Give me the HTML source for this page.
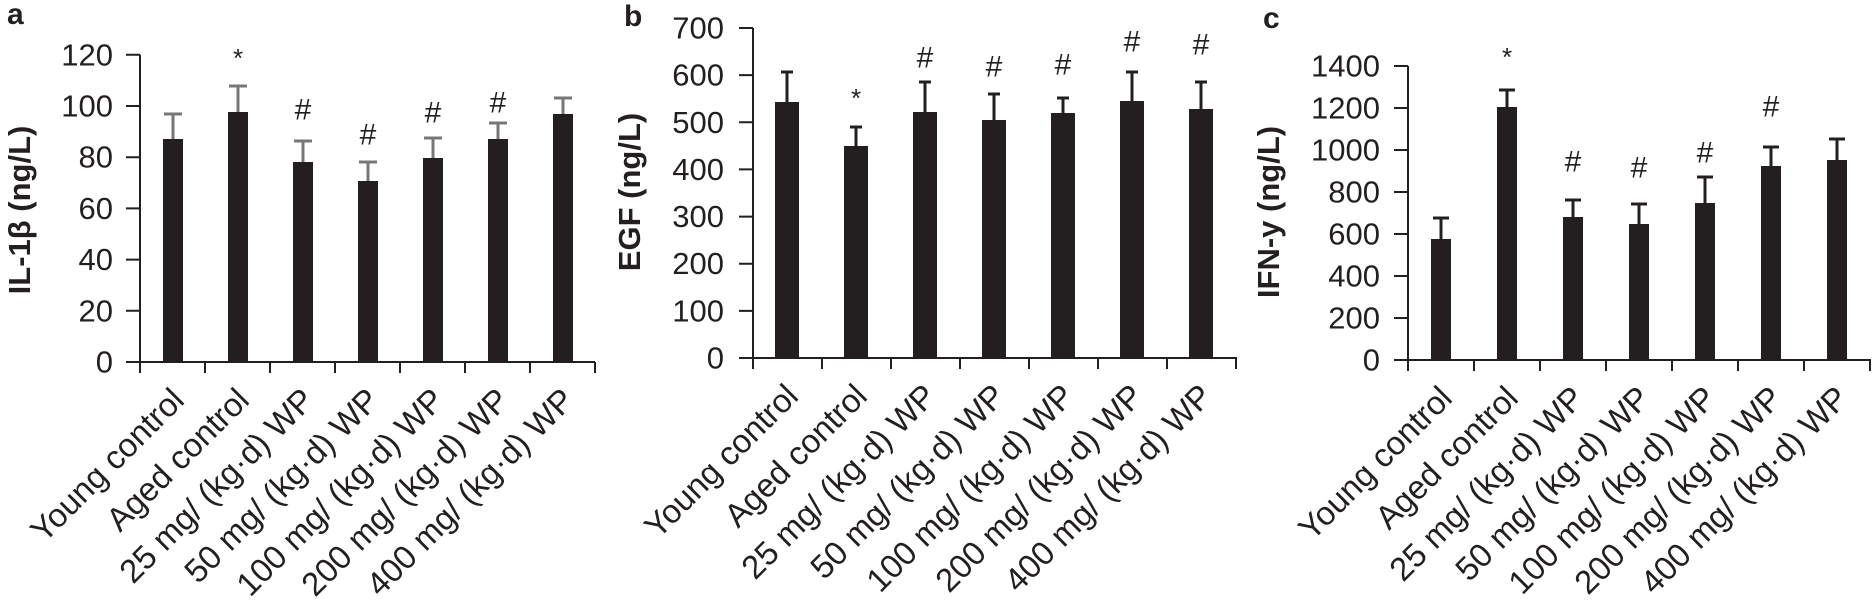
<!DOCTYPE html>
<html><head><meta charset="utf-8"><style>
html,body{margin:0;padding:0;background:#fff;}
svg{display:block;font-family:"Liberation Sans",sans-serif;}
.tk{font-size:31px;fill:#231f20;}
.xl{font-size:33px;fill:#231f20;}
.ti{font-size:31px;font-weight:bold;fill:#231f20;}
.pl{font-size:30px;font-weight:bold;fill:#231f20;}
.mk{font-size:30px;fill:#231f20;}
.st{font-size:26px;fill:#231f20;}
.ax{stroke:#231f20;stroke-width:2;fill:none;}
.bar{fill:#231f20;}
.eg{stroke:#777;stroke-width:3;fill:none;}
.eb{stroke:#231f20;stroke-width:3;fill:none;}
</style></head><body>
<svg width="1872" height="601" viewBox="0 0 1872 601" xmlns="http://www.w3.org/2000/svg">
<!-- Panel a -->
<text class="pl" x="7" y="24">a</text>
<text class="ti" transform="translate(30,210) rotate(-90)" text-anchor="middle">IL-1β (ng/L)</text>
<path class="ax" d="M140 54.8V362H595M126 362H140M126 310.8H140M126 259.6H140M126 208.4H140M126 157.2H140M126 106H140M126 54.8H140M140 362V373M205 362V373M270 362V373M335 362V373M400 362V373M465 362V373M530 362V373M595 362V373"/>
<g class="tk" text-anchor="end" dominant-baseline="central">
<text x="113" y="362">0</text><text x="113" y="310.8">20</text><text x="113" y="259.6">40</text><text x="113" y="208.4">60</text><text x="113" y="157.2">80</text><text x="113" y="106">100</text><text x="113" y="54.8">120</text></g>
<path class="eg" d="M173 139V114M164 114H182M238 112V86M229 86H247M303 162V141M294 141H312M368 181V162M359 162H377M433 158V138M424 138H442M498 139V123M489 123H507M563 114V98M554 98H572"/>
<rect class="bar" x="163" y="139" width="20" height="223"/><rect class="bar" x="228" y="112" width="20" height="250"/><rect class="bar" x="293" y="162" width="20" height="200"/><rect class="bar" x="358" y="181" width="20" height="181"/><rect class="bar" x="423" y="158" width="20" height="204"/><rect class="bar" x="488" y="139" width="20" height="223"/><rect class="bar" x="553" y="114" width="20" height="248"/>
<g text-anchor="middle" dominant-baseline="central"><text class="st" x="238" y="58">*</text><text class="mk" x="303" y="110">#</text><text class="mk" x="368" y="135">#</text><text class="mk" x="433" y="113">#</text><text class="mk" x="498" y="103">#</text></g>
<g class="xl" text-anchor="end">
<text transform="translate(186,402) rotate(-45)">Young control</text>
<text transform="translate(251,402) rotate(-45)">Aged control</text>
<text transform="translate(316,402) rotate(-45)">25 mg/ (kg·d) WP</text>
<text transform="translate(381,402) rotate(-45)">50 mg/ (kg·d) WP</text>
<text transform="translate(446,402) rotate(-45)">100 mg/ (kg·d) WP</text>
<text transform="translate(511,402) rotate(-45)">200 mg/ (kg·d) WP</text>
<text transform="translate(576,402) rotate(-45)">400 mg/ (kg·d) WP</text></g>

<!-- Panel b -->
<text class="pl" x="624" y="26">b</text>
<text class="ti" transform="translate(640,192) rotate(-90)" text-anchor="middle">EGF (ng/L)</text>
<path class="ax" d="M753 28V358H1237M739 358H753M739 310.9H753M739 263.7H753M739 216.6H753M739 169.4H753M739 122.3H753M739 75.1H753M739 28H753M753 358V369M822 358V369M891 358V369M960 358V369M1029 358V369M1098 358V369M1167 358V369M1236 358V369"/>
<g class="tk" text-anchor="end" dominant-baseline="central">
<text x="724" y="358">0</text><text x="724" y="310.9">100</text><text x="724" y="263.7">200</text><text x="724" y="216.6">300</text><text x="724" y="169.4">400</text><text x="724" y="122.3">500</text><text x="724" y="75.1">600</text><text x="724" y="28">700</text></g>
<path class="eb" d="M787 102V72M781 72H793M856 146V127M850 127H862M925 112V82M919 82H931M994 120V94M988 94H1000M1063 113V98M1057 98H1069M1132 101V72M1126 72H1138M1201 109V82M1195 82H1207"/>
<rect class="bar" x="775" y="102" width="24" height="256"/><rect class="bar" x="844" y="146" width="24" height="212"/><rect class="bar" x="913" y="112" width="24" height="246"/><rect class="bar" x="982" y="120" width="24" height="238"/><rect class="bar" x="1051" y="113" width="24" height="245"/><rect class="bar" x="1120" y="101" width="24" height="257"/><rect class="bar" x="1189" y="109" width="24" height="249"/>
<g text-anchor="middle" dominant-baseline="central"><text class="st" x="856" y="98">*</text><text class="mk" x="925" y="58">#</text><text class="mk" x="994" y="67">#</text><text class="mk" x="1063" y="65">#</text><text class="mk" x="1132" y="42">#</text><text class="mk" x="1201" y="45">#</text></g>
<g class="xl" text-anchor="end">
<text transform="translate(800,398) rotate(-45)">Young control</text>
<text transform="translate(869,398) rotate(-45)">Aged control</text>
<text transform="translate(938,398) rotate(-45)">25 mg/ (kg·d) WP</text>
<text transform="translate(1007,398) rotate(-45)">50 mg/ (kg·d) WP</text>
<text transform="translate(1076,398) rotate(-45)">100 mg/ (kg·d) WP</text>
<text transform="translate(1145,398) rotate(-45)">200 mg/ (kg·d) WP</text>
<text transform="translate(1214,398) rotate(-45)">400 mg/ (kg·d) WP</text></g>

<!-- Panel c -->
<text class="pl" x="1263" y="28">c</text>
<text class="ti" transform="translate(1279,212) rotate(-90)" text-anchor="middle">IFN-y (ng/L)</text>
<path class="ax" d="M1408 66V360H1871M1394 360H1408M1394 318H1408M1394 276H1408M1394 234H1408M1394 192H1408M1394 150H1408M1394 108H1408M1394 66H1408M1408 360V371M1474 360V371M1540 360V371M1606 360V371M1672 360V371M1738 360V371M1804 360V371M1870 360V371"/>
<g class="tk" text-anchor="end" dominant-baseline="central">
<text x="1380" y="360">0</text><text x="1380" y="318">200</text><text x="1380" y="276">400</text><text x="1380" y="234">600</text><text x="1380" y="192">800</text><text x="1380" y="150">1000</text><text x="1380" y="108">1200</text><text x="1380" y="66">1400</text></g>
<path class="eb" d="M1441 239V218M1433 218H1449M1507 107V90M1499 90H1515M1573 217V200M1565 200H1581M1639 224V204M1631 204H1647M1705 203V177M1697 177H1713M1771 166V147M1763 147H1779M1837 160V139M1829 139H1845"/>
<rect class="bar" x="1431" y="239" width="20" height="121"/><rect class="bar" x="1497" y="107" width="20" height="253"/><rect class="bar" x="1563" y="217" width="20" height="143"/><rect class="bar" x="1629" y="224" width="20" height="136"/><rect class="bar" x="1695" y="203" width="20" height="157"/><rect class="bar" x="1761" y="166" width="20" height="194"/><rect class="bar" x="1827" y="160" width="20" height="200"/>
<g text-anchor="middle" dominant-baseline="central"><text class="st" x="1507" y="57">*</text><text class="mk" x="1573" y="162">#</text><text class="mk" x="1639" y="168">#</text><text class="mk" x="1705" y="153">#</text><text class="mk" x="1771" y="107">#</text></g>
<g class="xl" text-anchor="end">
<text transform="translate(1454,400) rotate(-45)">Young control</text>
<text transform="translate(1520,400) rotate(-45)">Aged control</text>
<text transform="translate(1586,400) rotate(-45)">25 mg/ (kg·d) WP</text>
<text transform="translate(1652,400) rotate(-45)">50 mg/ (kg·d) WP</text>
<text transform="translate(1718,400) rotate(-45)">100 mg/ (kg·d) WP</text>
<text transform="translate(1784,400) rotate(-45)">200 mg/ (kg·d) WP</text>
<text transform="translate(1850,400) rotate(-45)">400 mg/ (kg·d) WP</text></g>
</svg>
</body></html>
